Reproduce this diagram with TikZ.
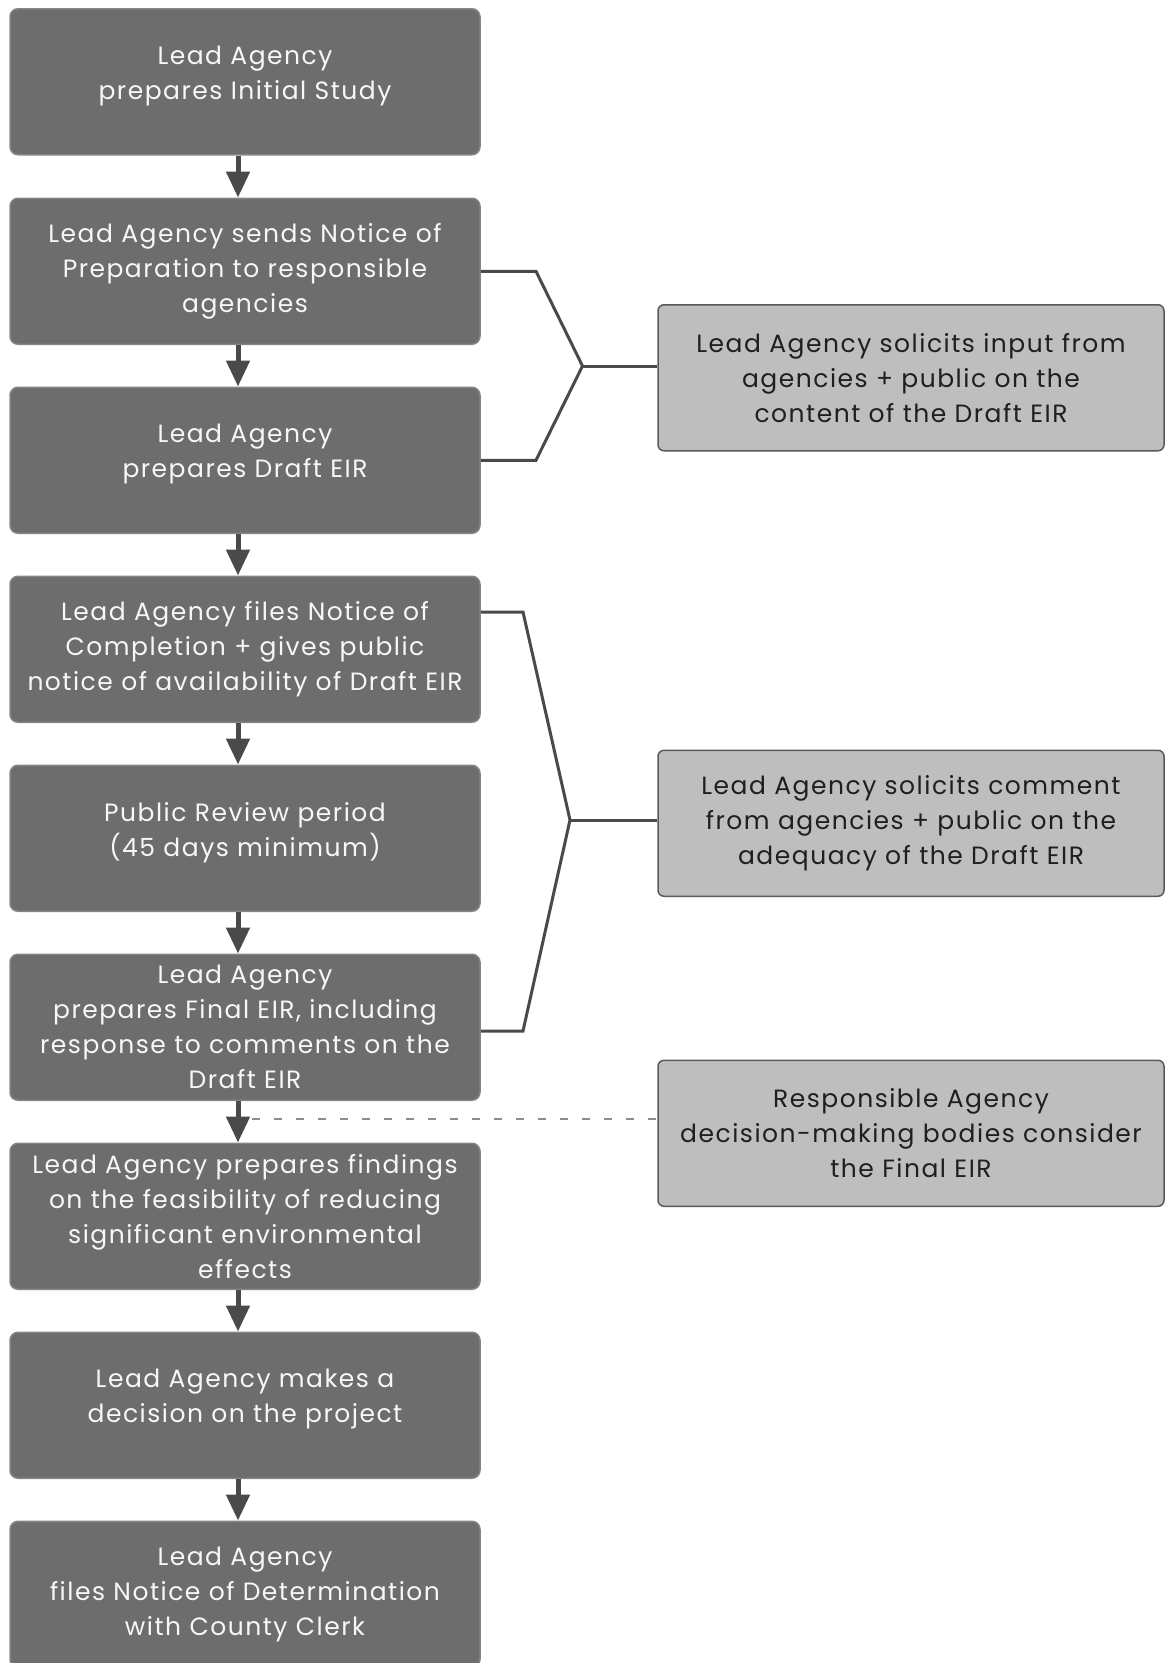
\documentclass[tikz,border=0pt]{standalone}
\usepackage{fontspec}
\setmainfont{Poppins}[LetterSpace=6]
\usetikzlibrary{arrows.meta}
\definecolor{darkbox}{HTML}{6D6D6D}
\definecolor{darkedge}{HTML}{858585}
\definecolor{lightbox}{HTML}{BEBEBE}
\definecolor{lightedge}{HTML}{5A5A5A}
\definecolor{linecol}{HTML}{4A4A4A}
\definecolor{dashcol}{HTML}{8C8C8C}
\begin{document}
\begin{tikzpicture}[x=1pt,y=-1pt,
  leftbox/.style={draw=darkedge, line width=1.5pt, fill=darkbox, rounded corners=8pt,
    minimum width=470pt, minimum height=146pt, inner sep=0pt},
  lefttext/.style={text width=468pt, align=center, inner sep=0pt,
    text=white!94!gray, font=\fontsize{25}{35}\selectfont},
  rightbox/.style={draw=lightedge, line width=1.5pt, fill=lightbox, rounded corners=6pt,
    minimum width=506pt, minimum height=146pt, text width=502pt, align=center,
    text=black!88, font=\fontsize{25}{35}\selectfont, inner sep=0pt},
  flow/.style={-{Triangle[width=23pt,length=26pt]}, line width=5pt, draw=linecol},
  bracket/.style={line width=3pt, draw=linecol, line join=miter},
  dashline/.style={draw=dashcol, line width=1.5pt, dash pattern=on 8pt off 14pt}]
\useasboundingbox (0,0) rectangle (1166,1663);
\clip (0,0) rectangle (1166,1663);

\node[leftbox] (b1) at (245,81.75) {};
\node[leftbox] (b2) at (245,271.25) {};
\node[leftbox] (b3) at (245,460.25) {};
\node[leftbox] (b4) at (245,649.25) {};
\node[leftbox] (b5) at (245,838.25) {};
\node[leftbox] (b6) at (245,1027.25) {};
\node[leftbox] (b7) at (245,1216.25) {};
\node[leftbox] (b8) at (245,1405.25) {};
\node[leftbox] (b9) at (245,1594.25) {};

\node[lefttext, yshift=6pt] (t1) at (b1) {Lead Agency\\prepares Initial Study};
\node[lefttext] (t2) at (b2) {Lead Agency sends Notice of\\Preparation to responsible\\agencies};
\node[lefttext, yshift=6pt] (t3) at (b3) {Lead Agency\\prepares Draft EIR};
\node[lefttext] (t4) at (b4) {Lead Agency files Notice of\\Completion + gives public\\notice of availability of Draft EIR};
\node[lefttext, yshift=6pt] (t5) at (b5) {Public Review period\\(45 days minimum)};
\node[lefttext] (t6) at (b6) {Lead Agency\\prepares Final EIR, including\\response to comments on the\\Draft EIR};
\node[lefttext] (t7) at (b7) {Lead Agency prepares findings\\on the feasibility of reducing\\significant environmental\\effects};
\node[lefttext, yshift=6pt] (t8) at (b8) {Lead Agency makes a\\decision on the project};
\node[lefttext] (t9) at (b9) {Lead Agency\\files Notice of Determination\\with County Clerk};

\node[rightbox] (r1) at (911,377.75) {Lead Agency solicits input from\\agencies + public on the\\content of the Draft EIR};
\node[rightbox] (r2) at (911,823.25) {Lead Agency solicits comment\\from agencies + public on the\\adequacy of the Draft EIR};
\node[rightbox] (r3) at (911,1133.25) {Responsible Agency\\decision-making bodies consider\\the Final EIR};

\coordinate (ax) at (238,0);
\foreach \a/\b in {b1/b2,b2/b3,b3/b4,b4/b5,b5/b6,b6/b7,b7/b8,b8/b9}
  \draw[flow] (\a.south -| ax) -- (\b.north -| ax);

% bracket 1
\coordinate (j1) at (582.5,366);
\coordinate (c1a) at (536,271.25);
\coordinate (c1b) at (536,460.25);
\draw[bracket] (b2.east |- c1a) -- (c1a) -- (j1) -- (c1b) -- (b3.east |- c1b);
\draw[bracket] (j1) -- (j1 -| r1.west);

% bracket 2
\coordinate (j2) at (570,820);
\coordinate (c2a) at (523,612);
\coordinate (c2b) at (523,1031);
\draw[bracket] (b4.east |- c2a) -- (c2a) -- (j2) -- (c2b) -- (b6.east |- c2b);
\draw[bracket] (j2) -- (j2 -| r2.west);

% dashed link
\coordinate (d0) at (252,1119);
\draw[dashline] (d0) -- (d0 -| r3.west);
\end{tikzpicture}
\end{document}
